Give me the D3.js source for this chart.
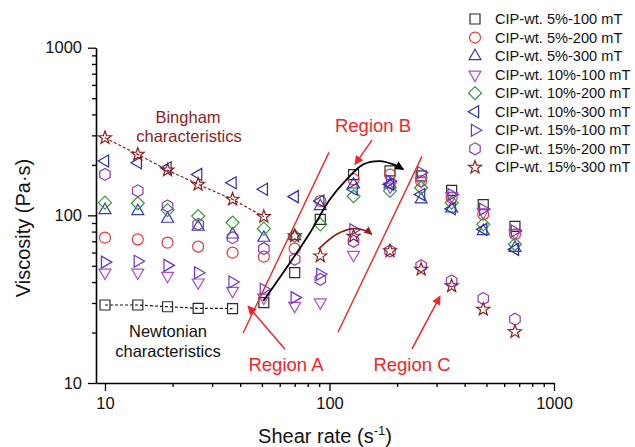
<!DOCTYPE html>
<html><head><meta charset="utf-8">
<script src="https://cdn.jsdelivr.net/npm/d3@7"></script>
<style>html,body{margin:0;padding:0;background:#fff;}svg{display:block;font-family:"Liberation Sans",Arial,sans-serif;}</style>
</head><body><svg id="c" width="635" height="447"></svg>
<script>
// ---- data ----
const shearRate = [10, 14, 19, 26, 37, 51, 70, 91, 128, 186, 256, 350, 484, 670];
const seriesNames = ["CIP-wt. 5%-100 mT","CIP-wt. 5%-200 mT","CIP-wt. 5%-300 mT","CIP-wt. 10%-100 mT","CIP-wt. 10%-200 mT","CIP-wt. 10%-300 mT","CIP-wt. 15%-100 mT","CIP-wt. 15%-200 mT","CIP-wt. 15%-300 mT"];
const v5_100  = [29.2, 29.2, 28.5, 27.9, 27.8, 30.2, 45.5, 94.7, 175, 184, 172, 141, 116, 86];
const v5_200  = [73.6, 71.9, 68.7, 65.1, 59.9, 56.7, 63.3, 121.7, 164, 175, 160, 127.5, 101.4, 77.1];
const v5_300  = [107.5, 106, 95.6, 85.6, 77, 73.6, 75.3, 113.6, 153, 153, 124.6, 110, 80.6, 64];
const v10_100 = [45.5, 45.5, 43.5, 39.7, 35.4, 32.3, 28.8, 30.2, 58, 148, 160, 130, 104, 78];
const v10_200 = [119, 118, 107.5, 99, 90.5, 83.3, 75.3, 88.4, 130, 140, 146, 119, 88.4, 67.2];
const v10_300 = [211, 206, 192.5, 175.5, 156.5, 143, 129.3, 121.7, 143, 153, 133, 109.6, 82.5, 62.7];
const v15_100 = [52.6, 53.3, 50.3, 45.5, 40, 36.2, 32.3, 44.5, 82, 160, 180, 133, 108.6, 80.6];
const v15_200 = [175.5, 140, 113.6, 88.4, 73.6, 63.3, 54.7, 41.5, 70, 61.3, 50, 40.6, 31.9, 24];
const v15_300 = [290, 231, 186, 153, 124.6, 98.2, 75.3, 57.2, 75, 61.3, 47.6, 37.9, 27.5, 20.2];
const xTicks = [10, 100, 1000];
const yTicks = [10, 100, 1000];
// annotation geometry in data units (shear rate, viscosity)
const boundary1 = [[41.2, 19.8], [99.5, 237.5]];
const boundary2 = [[109.1, 20.06], [258.2, 224.8]];
const arrowB = [[154.6, 281], [129.9, 201.5]];
const arrowA = [[63.4, 15.9], [43.4, 28.7]];
const arrowC = [[233.1, 16.0], [310.6, 32.9]];
const blackCurve = [[50.7, 30.8], [66.7, 52.2], [81.9, 78.8], [100.5, 124.6], [119.3, 164], [141.4, 201.5], [167.8, 210.7], [192.3, 201.5], [213.2, 188]];
const redCurve = [[89.2, 62.7], [107.7, 77.1], [127.6, 83.3], [146.4, 80.6], [154.2, 77.1]];

const seriesValues = [v5_100, v5_200, v5_300, v10_100, v10_200, v10_300, v15_100, v15_200, v15_300];
const colors = ["#2b2b2b","#e8393a","#3a3ab4","#b04cc2","#2f9a3a","#2b2f9e","#6a35c0","#8e3aae","#8b1f1f"];

// ---- shapes ----
function poly(pts){return "M"+pts.map(p=>p[0].toFixed(2)+","+p[1].toFixed(2)).join("L")+"Z";}
const shapes = [
  ()=>poly([[-5,-5],[5,-5],[5,5],[-5,5]]),
  ()=>{const p=d3.path();p.arc(0,0,5.5,0,2*Math.PI);p.closePath();return p.toString();},
  ()=>poly([[0,-6.8],[6,3.6],[-6,3.6]]),
  ()=>poly([[0,6.8],[6,-3.6],[-6,-3.6]]),
  ()=>poly([[0,-6.5],[6.5,0],[0,6.5],[-6.5,0]]),
  ()=>poly([[-6.8,0],[3.6,-6],[3.6,6]]),
  ()=>poly([[6.8,0],[-3.6,-6],[-3.6,6]]),
  ()=>poly(d3.range(6).map(i=>{const a=-Math.PI/2+i*Math.PI/3;return [6*Math.cos(a),6*Math.sin(a)];})),
  ()=>poly(d3.range(10).map(i=>{const a=-Math.PI/2+i*Math.PI/5;const r=i%2?2.8:6.8;return [r*Math.cos(a),r*Math.sin(a)];}))
];

// ---- scales ----
const svg = d3.select("#c");
const x = d3.scaleLog().domain([9.12, 1000]).range([96, 554]);
const y = d3.scaleLog().domain([10, 1000]).range([383, 47.7]);

// defs
const defs = svg.append("defs");
function mk(id,color,w,h){
  defs.append("marker").attr("id",id).attr("viewBox","0 0 10 10").attr("refX",9).attr("refY",5)
    .attr("markerWidth",w).attr("markerHeight",h).attr("markerUnits","userSpaceOnUse").attr("orient","auto")
    .append("path").attr("d","M0,0L10,5L0,10Z").attr("fill",color);
}
mk("ahRed","#e8282a",11,9); mk("ahBlack","#000",11,9); mk("ahDark","#8b1f1f",10,8);

// ---- axes ----
const minorX = [];
[10,100].forEach(d=>{for(let k=2;k<=9;k++) minorX.push(d*k);});
const minorY = minorX.slice();
const gx = svg.append("g").attr("transform","translate(0,383)");
gx.call(d3.axisBottom(x).tickValues(xTicks).tickFormat(d3.format("d")).tickSize(8).tickPadding(6).tickSizeOuter(0));
gx.append("g").call(d3.axisBottom(x).tickValues(minorX).tickFormat("").tickSize(4).tickSizeOuter(0)).select(".domain").remove();
const gy = svg.append("g").attr("transform","translate(96,0)");
gy.call(d3.axisLeft(y).tickValues(yTicks).tickFormat(d3.format("d")).tickSize(8).tickPadding(6).tickSizeOuter(0));
gy.append("g").call(d3.axisLeft(y).tickValues(minorY).tickFormat("").tickSize(4).tickSizeOuter(0)).select(".domain").remove();
svg.selectAll(".domain").attr("stroke","#000").attr("stroke-width",1.6);
svg.selectAll(".tick line").attr("stroke","#000").attr("stroke-width",1.3);
svg.selectAll(".tick text").attr("font-size","16.5px").attr("fill","#111").attr("font-family","Liberation Sans, Arial, sans-serif");

// axis titles
svg.append("text").attr("x",325).attr("y",443).attr("text-anchor","middle").attr("font-size","20px").attr("fill","#111")
  .html('Shear rate (s<tspan dy="-8" font-size="13px">-1</tspan><tspan dy="8">)</tspan>');
svg.append("text").attr("transform","translate(30,228) rotate(-90)").attr("text-anchor","middle").attr("font-size","20px").attr("fill","#111")
  .text("Viscosity (Pa·s)");

const line = d3.line().x(d=>x(d[0])).y(d=>y(d[1]));

// dashed fits
svg.append("path").attr("d",line(shearRate.slice(0,5).map((s,i)=>[s,v5_100[i]]))).attr("fill","none")
  .attr("stroke","#111").attr("stroke-width",1.2).attr("stroke-dasharray","3,2");
svg.append("path").attr("d",line(shearRate.slice(0,6).map((s,i)=>[s,v15_300[i]]))).attr("fill","none")
  .attr("stroke","#8b1f1f").attr("stroke-width",1.2).attr("stroke-dasharray","3,2");

// ---- data markers ----
seriesValues.forEach((vals,si)=>{
  svg.append("g").selectAll("path").data(vals.map((v,i)=>[shearRate[i],v])).join("path")
    .attr("d",shapes[si]()).attr("transform",d=>`translate(${x(d[0])},${y(d[1])})`)
    .attr("fill","none").attr("stroke",colors[si]).attr("stroke-width",1.2);
});

// ---- annotations ----
[boundary1,boundary2].forEach(b=>svg.append("path").attr("d",line(b)).attr("stroke","#e8282a").attr("stroke-width",1.4).attr("fill","none"));
[arrowA,arrowB,arrowC].forEach(a=>svg.append("path").attr("d",line(a)).attr("stroke","#e8282a").attr("stroke-width",1.5).attr("fill","none").attr("marker-end","url(#ahRed)"));
const curve = d3.line().x(d=>x(d[0])).y(d=>y(d[1])).curve(d3.curveCatmullRom);
svg.append("path").attr("d",curve(blackCurve)).attr("stroke","#000").attr("stroke-width",1.8).attr("fill","none").attr("marker-end","url(#ahBlack)");
svg.append("path").attr("d",curve(redCurve)).attr("stroke","#8b1f1f").attr("stroke-width",1.6).attr("fill","none").attr("marker-end","url(#ahDark)");

function label(t,cx,by,col,fs){svg.append("text").attr("x",cx).attr("y",by).attr("text-anchor","middle").attr("font-size",fs).attr("fill",col).text(t);}
label("Bingham",188,123,"#8b1f1f","16.5px");
label("characteristics",189,142,"#8b1f1f","16.5px");
label("Newtonian",168,337,"#111","16.5px");
label("characteristics",168,357,"#111","16.5px");
label("Region A",286,371,"#e8282a","18.5px");
label("Region B",373,132,"#e8282a","18.5px");
label("Region C",412,371,"#e8282a","18.5px");

// ---- legend ----
const lg = svg.append("g");
seriesNames.forEach((n,i)=>{
  const cy = 19 + i*18.55;
  lg.append("path").attr("d",shapes[i]()).attr("transform",`translate(475,${cy})`).attr("fill","none").attr("stroke",colors[i]).attr("stroke-width",1.2);
  lg.append("text").attr("x",495).attr("y",cy+5).attr("font-size","14.6px").attr("fill","#111").text(n);
});
</script></body></html>
